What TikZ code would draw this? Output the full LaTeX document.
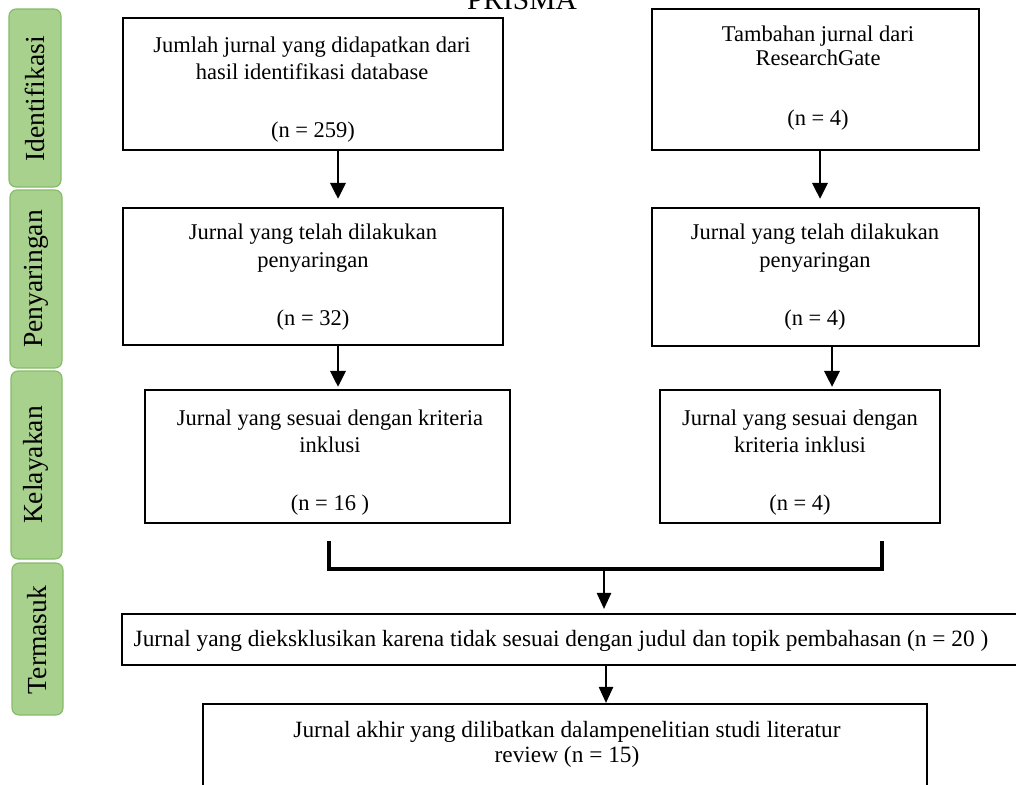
\documentclass[tikz,border=0pt]{standalone}
\usepackage{fontspec}
\setmainfont{Liberation Serif}
\usetikzlibrary{arrows.meta}
\definecolor{sidefill}{HTML}{A9D18E}
\definecolor{sideline}{HTML}{86BA68}
\begin{document}
\begin{tikzpicture}[x=0.025cm,y=-0.025cm,
  box/.style={draw=black,line width=1.6pt,inner sep=0pt},
  side/.style={draw=sideline,fill=sidefill,line width=0.8pt,rounded corners=5pt,inner sep=0pt},
  sidetext/.style={rotate=90,font=\fontsize{19.6}{22}\selectfont},
  txt/.style={font=\fontsize{16}{19}\selectfont,inner sep=0pt,anchor=base},
  widetxt/.style={txt,font=\fontsize{16.6}{19}\selectfont},
  thickarrow/.style={line width=2pt,-{Triangle[width=0.38cm,length=0.4cm]}},
  thinarrow/.style={line width=1pt,-{Triangle[width=0.36cm,length=0.4cm]}},
  bracket/.style={line width=2.5pt}]
\useasboundingbox (0,0) rectangle (1016,784);
\begin{scope}
\clip (0,0) rectangle (1016,784);
% title
\node[anchor=base,inner sep=0pt,font=\fontsize{21}{24}\selectfont] (title) at (522,9) {PRISMA};
% side bars
\draw[side] (9,9) rectangle (61,187);
\node[sidetext] (s1) at (35,99) {Identifikasi};
\draw[side] (10,190) rectangle (62,368);
\node[sidetext] (s2) at (36,279) {Penyaringan};
\draw[side] (11,371) rectangle (62,559);
\node[sidetext] (s3) at (36,465) {Kelayakan};
\draw[side] (12,563) rectangle (63,715);
\node[sidetext] (s4) at (37,640) {Termasuk};
% boxes
\node[box,minimum width=380*0.025cm,minimum height=132*0.025cm] (b1) at (313,84) {};
\node[txt] (b1a) at (312,52) {Jumlah jurnal yang didapatkan dari};
\node[txt] (b1b) at (312,79) {hasil identifikasi database};
\node[txt] (b1c) at (313,137) {(n = 259)};
\node[box,minimum width=327*0.025cm,minimum height=141*0.025cm] (b2) at (815.5,79.5) {};
\node[txt] (b2a) at (818,41) {Tambahan jurnal dari};
\node[txt] (b2b) at (818,65) {ResearchGate};
\node[txt] (b2c) at (818,125) {(n = 4)};
\node[box,minimum width=380*0.025cm,minimum height=137*0.025cm] (b3) at (313,276.5) {};
\node[txt] (b3a) at (313,239) {Jurnal yang telah dilakukan};
\node[txt] (b3b) at (313,267) {penyaringan};
\node[txt] (b3c) at (313,325) {(n = 32)};
\node[box,minimum width=327*0.025cm,minimum height=138*0.025cm] (b4) at (815.5,277) {};
\node[txt] (b4a) at (815,239) {Jurnal yang telah dilakukan};
\node[txt] (b4b) at (815,267) {penyaringan};
\node[txt] (b4c) at (815,325) {(n = 4)};
\node[box,minimum width=365*0.025cm,minimum height=133*0.025cm] (b5) at (327.5,456.5) {};
\node[txt] (b5a) at (330,425) {Jurnal yang sesuai dengan kriteria};
\node[txt] (b5b) at (330,452) {inklusi};
\node[txt] (b5c) at (330,510) {(n = 16 )};
\node[box,minimum width=280*0.025cm,minimum height=133*0.025cm] (b6) at (800,456.5) {};
\node[txt] (b6a) at (800,425) {Jurnal yang sesuai dengan};
\node[txt] (b6b) at (800,452) {kriteria inklusi};
\node[txt] (b6c) at (800,510) {(n = 4)};
\node[box,minimum width=900*0.025cm,minimum height=51*0.025cm] (b7) at (572,639.5) {};
\node[widetxt] (b7a) at (561,646) {Jurnal yang dieksklusikan karena tidak sesuai dengan judul dan topik pembahasan (n = 20 )};
\node[box,minimum width=724*0.025cm,minimum height=100*0.025cm] (b8) at (565,754) {};
\node[widetxt] (b8a) at (567,737) {Jurnal akhir yang dilibatkan dalampenelitian studi literatur};
\node[widetxt] (b8b) at (567,762) {review (n = 15)};
% connectors
\draw[thickarrow,shorten >=8*0.025cm] (b1.south -| 338,0) -- (b3.north -| 338,0);
\draw[thickarrow,shorten >=8*0.025cm] (b2.south -| 820,0) -- (b4.north -| 820,0);
\draw[thickarrow,shorten >=2*0.025cm] (b3.south -| 338,0) -- (b5.north -| 338,0);
\draw[thickarrow,shorten >=2*0.025cm] (b4.south -| 832,0) -- (b6.north -| 832,0);
\coordinate (bl) at (329,541);
\coordinate (br) at (882,541);
\coordinate (bm) at (604,569);
\draw[bracket] (bl) |- (bm) -| (br);
\draw[thinarrow,shorten >=4*0.025cm] (bm) -- (b7.north -| bm);
\draw[thinarrow] (b7.south -| 606,0) -- (b8.north -| 606,0);
\end{scope}
\end{tikzpicture}
\end{document}
